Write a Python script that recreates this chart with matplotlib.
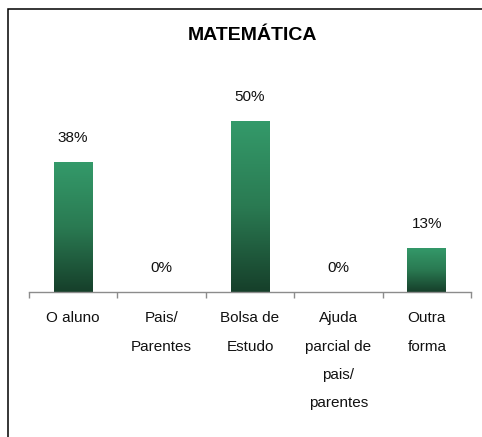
import numpy as np
import matplotlib
matplotlib.use("Agg")
import matplotlib.pyplot as plt
from matplotlib.patches import Rectangle
from matplotlib.colors import LinearSegmentedColormap

categories = ["O aluno", "Pais/\nParentes", "Bolsa de\nEstudo",
              "Ajuda\nparcial de\npais/\nparentes", "Outra\nforma"]
values = [38, 0, 50, 0, 13]
value_labels = ["38%", "0%", "50%", "0%", "13%"]
title = "MATEMÁTICA"

plt.rcParams['font.family'] = ['Liberation Sans', 'DejaVu Sans']

W, H = 482, 437
fig = plt.figure(figsize=(W / 100, H / 100), dpi=100)

# outer frame (right/bottom edges fall outside the picture)
fig.patches.append(Rectangle((8 / W, -0.1), 1.2, 1 - 9 / H + 0.1,
                             transform=fig.transFigure, fill=False,
                             edgecolor='black', linewidth=1.1))

ax = fig.add_axes([29 / W, 145 / H, 442 / W, 232 / H])
x = np.arange(len(categories))
bars = ax.bar(x, values, width=0.44, color='none', edgecolor='none')

cmap = LinearSegmentedColormap.from_list('g', ['#163f2a', '#2a7a52', '#349a6a'])
grad = np.linspace(0, 1, 256).reshape(-1, 1)
for b in bars:
    if b.get_height() <= 0:
        continue
    x0, w, h = b.get_x(), b.get_width(), b.get_height()
    im = ax.imshow(grad, cmap=cmap, origin='lower', aspect='auto',
                   extent=[x0, x0 + w, 0, h], zorder=2)
    im.set_clip_path(b)

for xi, v, lab in zip(x, values, value_labels):
    ax.annotate(lab, (xi, v), xytext=(0, 17), textcoords='offset points',
                ha='center', va='center', fontsize=11, color='#111111')

ax.set_xlim(-0.5, len(categories) - 0.5)
ax.set_ylim(0, 232 / 3.42)
ax.set_yticks([])
for s in ['top', 'right', 'left']:
    ax.spines[s].set_visible(False)
ax.spines['bottom'].set_color('#8c8c8c')
ax.spines['bottom'].set_linewidth(1.0)

ax.set_xticks(x)
ax.set_xticklabels(categories, fontsize=11, linespacing=2.3, color='#111111')
ax.tick_params(axis='x', which='major', length=0, pad=14)
ax.set_xticks(np.arange(len(categories) + 1) - 0.5, minor=True)
ax.tick_params(axis='x', which='minor', length=4, color='#8c8c8c', width=1.0)

fig.text(252 / W, 1 - 36 / H, title, ha='center', va='center',
         fontsize=14, fontweight='bold')

fig.savefig('out.png', dpi=100)
